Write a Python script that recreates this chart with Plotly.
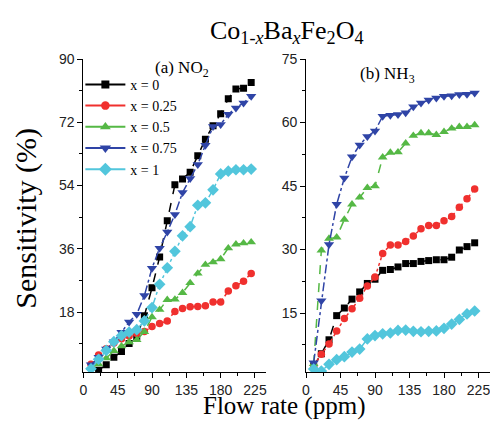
import plotly.graph_objects as go

# ---------------- data ----------------
flow = [10, 20, 30, 40, 50, 60, 70, 80, 90, 100, 110,
        120, 130, 140, 150, 160, 170, 180, 190, 200, 210, 220]
labels = ["x = 0", "x = 0.25", "x = 0.5", "x = 0.75", "x = 1"]

# (a) NO2
no2_x0 = [1.5, 3.0, 5.2, 6.8, 9.1, 11.1, 17.0, 24.9, 33.7, 44.0,
          54.2, 55.9, 57.8, 62.5, 67.2, 71.0, 74.4, 78.7, 81.5, 81.7, 83.3]  # from 20 ppm
no2_x025 = [3.2, 5.8, 7.6, 9.2, 10.4, 11.2, 11.9, 12.5, 13.9, 14.8, 15.5,
            18.2, 19.0, 19.5, 19.6, 19.8, 20.9, 20.9, 24.0, 25.5, 26.8, 29.0]
no2_x05 = [2.2, 3.2, 4.9, 7.0, 8.3, 9.5, 10.1, 12.4, 16.6, 18.7, 21.5,
           21.6, 23.5, 26.3, 29.0, 31.5, 32.2, 33.1, 36.2, 37.3, 37.6, 37.9]
no2_x075 = [3.0, 5.2, 7.5, 9.6, 12.3, 15.2, 17.4, 22.7, 30.5, 36.2, 40.8,
            45.8, 52.0, 56.0, 60.0, 65.5, 70.8, 71.4, 74.3, 76.1, 77.5, 79.4]
no2_x1 = [1.9, 4.6, 7.1, 9.6, 11.3, 12.3, 13.0, 15.5, 19.3, 25.9, 30.6,
          35.3, 39.7, 42.3, 48.4, 49.1, 52.8, 57.3, 58.1, 58.5, 58.5, 58.7]

# (b) NH3
nh3_x0 = [2.5, 5.4, 8.7, 14.4, 16.2, 18.3, 20.0, 22.0, 23.0, 25.1, 25.3,
          25.9, 26.7, 26.7, 27.2, 27.4, 27.6, 27.6, 28.2, 29.9, 30.7, 31.6]
nh3_x025 = [2.5, 5.3, 7.7, 10.8, 13.7, 16.0, 18.5, 21.4, 23.5, 29.1, 31.1,
            31.1, 31.9, 33.2, 34.9, 35.7, 35.7, 36.8, 37.8, 40.0, 42.0, 44.3]
nh3_x05 = [3.0, 29.8, 32.6, 32.9, 37.1, 40.7, 42.3, 44.6, 45.0, 51.8, 52.9,
           53.0, 55.1, 56.9, 57.5, 57.5, 57.1, 57.8, 58.6, 59.0, 59.0, 59.4]
nh3_x075 = [3.3, 17.9, 31.2, 40.7, 46.9, 51.9, 54.7, 56.7, 58.0, 61.5, 61.7,
            61.9, 62.3, 63.7, 64.6, 65.3, 65.8, 66.2, 66.3, 66.6, 66.7, 67.0]
nh3_x1 = [1.8, 1.3, 2.9, 4.0, 4.7, 5.8, 6.5, 8.9, 9.7, 10.1, 10.3,
          10.9, 11.0, 10.7, 10.6, 10.7, 10.8, 11.4, 12.4, 13.5, 14.8, 15.5]

x_ticks = [0, 45, 90, 135, 180, 225]
no2_ticks = [18, 36, 54, 72, 90]
nh3_ticks = [15, 30, 45, 60, 75]

# ---------------- styles ----------------
colors = ["#000000", "#F0302E", "#55B845", "#2F44A6", "#52C6DC"]
symbols = ["square", "circle", "triangle-up", "triangle-down", "diamond"]
sizes = [7, 7.5, 8.5, 9, 9]
dashes = ["dash", "dot", "dash", "dashdot", "dashdot"]

W, H = 490, 422
def px_x(p): return p / W
def px_y(p): return (H - p) / H

fig = go.Figure()

no2_series = [(flow[1:], no2_x0), (flow, no2_x025), (flow, no2_x05), (flow, no2_x075), (flow, no2_x1)]
nh3_series = [(flow, nh3_x0), (flow, nh3_x025), (flow, nh3_x05), (flow, nh3_x075), (flow, nh3_x1)]

for i, (xs, ys) in enumerate(no2_series):
    fig.add_trace(go.Scatter(x=xs, y=ys, mode="lines+markers", xaxis="x", yaxis="y",
                             line=dict(color=colors[i], width=1.5, dash=dashes[i]),
                             marker=dict(symbol=symbols[i], size=sizes[i], color=colors[i], line=dict(width=0)),
                             showlegend=False))
for i, (xs, ys) in enumerate(nh3_series):
    fig.add_trace(go.Scatter(x=xs, y=ys, mode="lines+markers", xaxis="x2", yaxis="y2",
                             line=dict(color=colors[i], width=1.5, dash=dashes[i]),
                             marker=dict(symbol=symbols[i], size=sizes[i], color=colors[i], line=dict(width=0)),
                             showlegend=False))
# legend entries (solid lines as in the reference legend)
for i, lab in enumerate(labels):
    fig.add_trace(go.Scatter(x=[None], y=[None], mode="lines+markers", xaxis="x", yaxis="y",
                             name=lab, line=dict(color=colors[i], width=2),
                             marker=dict(symbol=symbols[i], size=sizes[i] + 1, color=colors[i], line=dict(width=0))))

tickfont = dict(family="Liberation Sans, Arial, sans-serif", size=14, color="#222222")
axis_common = dict(showline=True, linecolor="#000000", linewidth=1, ticks="outside",
                   ticklen=5, tickwidth=1, tickcolor="#000000", showgrid=False, zeroline=False,
                   tickfont=tickfont, mirror=False, ticklabeloverflow="allow")
minor_common = dict(ticks="outside", ticklen=3, tickwidth=1, tickcolor="#000000", showgrid=False)

fig.update_layout(
    width=W, height=H, margin=dict(l=0, r=0, t=0, b=0),
    paper_bgcolor="white", plot_bgcolor="white",
    xaxis=dict(domain=[px_x(80), px_x(264.6)], range=[0, 240], anchor="y",
               tickvals=x_ticks, minor=dict(dtick=22.5, tick0=0, **minor_common), **axis_common),
    yaxis=dict(domain=[px_y(371), px_y(52)], range=[0.98, 90], anchor="x",
               tickvals=no2_ticks, minor=dict(dtick=9, tick0=0, **minor_common), **axis_common),
    xaxis2=dict(domain=[px_x(304.5), px_x(490)], range=[0, 240], anchor="y2",
                tickvals=x_ticks, minor=dict(dtick=22.5, tick0=0, **minor_common), **axis_common),
    yaxis2=dict(domain=[px_y(371), px_y(52)], range=[1.1, 75], anchor="x2",
                tickvals=nh3_ticks, minor=dict(dtick=7.5, tick0=0, **minor_common), **axis_common),
    legend=dict(x=px_x(77), y=px_y(62), xanchor="left", yanchor="top",
                bgcolor="rgba(0,0,0,0)", itemwidth=40, tracegroupgap=0,
                font=dict(family="Liberation Serif, Times New Roman, serif", size=14, color="#000000")),
    showlegend=True,
)

serif = "Liberation Serif, Times New Roman, serif"
fig.add_annotation(text="Co<sub>1-<i>x</i></sub>Ba<sub><i>x</i></sub>Fe<sub>2</sub>O<sub>4</sub>",
                   x=px_x(285), y=px_y(24), xref="paper", yref="paper", showarrow=False,
                   font=dict(family=serif, size=26, color="#000000"), xanchor="center", yanchor="middle")
fig.add_annotation(text="(a) NO<sub>2</sub>", x=px_x(179), y=px_y(62), xref="paper", yref="paper",
                   showarrow=False, font=dict(family=serif, size=17, color="#000000"),
                   xanchor="center", yanchor="middle")
fig.add_annotation(text="(b) NH<sub>3</sub>", x=px_x(387), y=px_y(68), xref="paper", yref="paper",
                   showarrow=False, font=dict(family=serif, size=17, color="#000000"),
                   xanchor="center", yanchor="middle")
fig.add_annotation(text="Sensitivity (%)", x=px_x(22), y=px_y(214), xref="paper", yref="paper",
                   showarrow=False, textangle=-90, font=dict(family=serif, size=30, color="#000000"),
                   xanchor="center", yanchor="middle")
fig.add_annotation(text="Flow rate (ppm)", x=px_x(282), y=px_y(422), xref="paper", yref="paper",
                   showarrow=False, font=dict(family=serif, size=25, color="#000000"),
                   xanchor="center", yanchor="bottom")

fig.write_html("out.html", config={"displayModeBar": False},
               post_script="document.body.style.margin='0px';document.body.style.overflow='hidden';")
